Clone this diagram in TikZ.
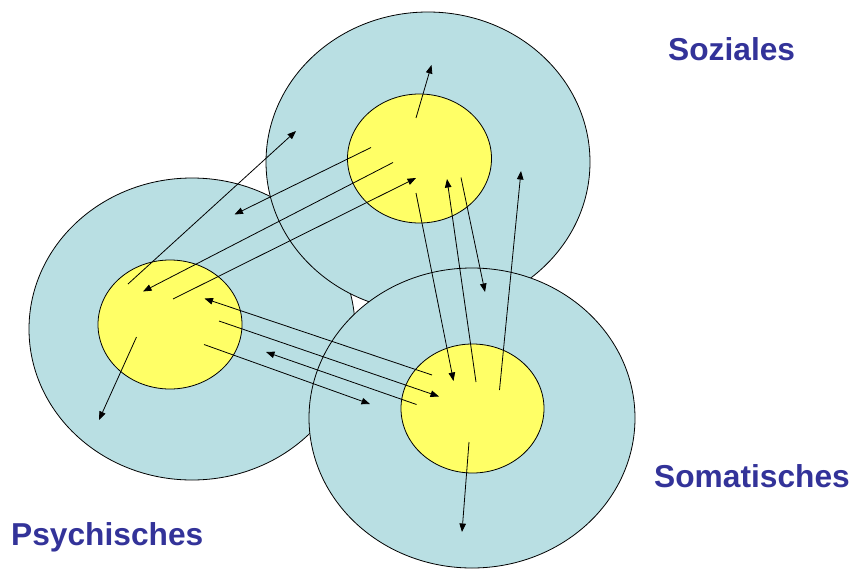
\documentclass[tikz,border=0pt]{standalone}
\usepackage{fontspec}
\newfontfamily\labfont{Liberation Sans}
\usetikzlibrary{arrows.meta,shapes.geometric}
\definecolor{outerblue}{RGB}{185,223,227}
\definecolor{inneryellow}{RGB}{255,255,102}
\definecolor{labblue}{RGB}{51,51,153}
\begin{document}
\begin{tikzpicture}[x=1pt,y=-1pt,
  outer/.style={ellipse,draw=black,line width=0.8pt,fill=outerblue,inner sep=0pt,outer sep=0pt},
  inner/.style={ellipse,draw=black,line width=0.8pt,fill=inneryellow,inner sep=0pt,outer sep=0pt},
  link/.style={line width=0.8pt,-{Triangle[length=8.5pt,width=6.5pt]}},
  lab/.style={anchor=base west,inner sep=0pt,text=labblue,font=\labfont\bfseries\fontsize{31.7}{36}\selectfont}]
\useasboundingbox (0,0) rectangle (853,570);
% big circles
\node[outer,minimum width=326pt,minimum height=302pt] (psyO) at (192,329) {};
\node[outer,minimum width=324pt,minimum height=300pt] (sozO) at (428,162) {};
\node[outer,minimum width=326pt,minimum height=300pt] (somO) at (472,418) {};
% inner ellipses
\node[inner,minimum width=144pt,minimum height=129pt] (sozI) at (419.5,158.5) {};
\node[inner,minimum width=144pt,minimum height=129pt] (psyI) at (170,324.5) {};
\node[inner,minimum width=143pt,minimum height=129pt] (somI) at (472.5,408.5) {};
% arrow end points
\coordinate (a1s) at (416,118);  \coordinate (a1e) at (431.5,65);
\coordinate (a2s) at (371,147.5);\coordinate (a2e) at (234.5,214.5);
\coordinate (a3s) at (393,162.5);\coordinate (a3e) at (143,291.5);
\coordinate (a4s) at (173,299);  \coordinate (a4e) at (416,178);
\coordinate (a5s) at (128,284);  \coordinate (a5e) at (296,131);
\coordinate (a6s) at (136.5,337);\coordinate (a6e) at (99,420);
\coordinate (a7s) at (432,375);  \coordinate (a7e) at (204.5,298.5);
\coordinate (a8s) at (219,321);  \coordinate (a8e) at (439,396.5);
\coordinate (a9s) at (204,344.5);\coordinate (a9e) at (370,404);
\coordinate (a10s) at (416.5,404.5);\coordinate (a10e) at (266,352);
\coordinate (a11s) at (416,193); \coordinate (a11e) at (453.5,381);
\coordinate (a12s) at (476,382); \coordinate (a12e) at (447,179);
\coordinate (a13s) at (461,177.5);\coordinate (a13e) at (485,292);
\coordinate (a14s) at (499.5,390);\coordinate (a14e) at (521,171);
\coordinate (a15s) at (469,442); \coordinate (a15e) at (462,532);
\foreach \i in {1,...,15} {\draw[link] (a\i s) -- (a\i e);}
% labels
\node[lab] (soz) at (668,60) {Soziales};
\node[lab] (som) at (654,487) {Somatisches};
\node[lab] (psy) at (11,545) {Psychisches};
\end{tikzpicture}
\end{document}
